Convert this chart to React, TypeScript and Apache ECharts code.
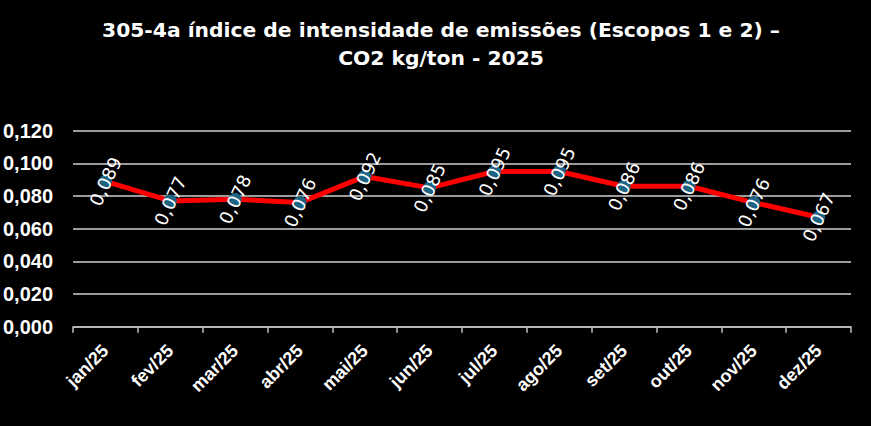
import React, { useEffect, useRef } from "react";
import * as echarts from "echarts";

const titleLines = ["305-4a índice de intensidade de emissões (Escopos 1 e 2) –", "CO2 kg/ton - 2025"];
const months = ["jan/25", "fev/25", "mar/25", "abr/25", "mai/25", "jun/25", "jul/25", "ago/25", "set/25", "out/25", "nov/25", "dez/25"];
const intensity = [0.089, 0.077, 0.078, 0.076, 0.092, 0.085, 0.095, 0.095, 0.086, 0.086, 0.076, 0.067];
const yMin = 0;
const yMax = 0.12;
const yStep = 0.02;

const fmt = (v: number) => v.toFixed(3).replace(".", ",");

export default function App() {
  const ref = useRef<HTMLDivElement>(null);
  useEffect(() => {
    if (!ref.current) return;
    const chart = echarts.init(ref.current, undefined, { renderer: "svg" });
    const font = "'Liberation Sans', Arial, sans-serif";
    chart.setOption({
      animation: false,
      backgroundColor: "#000000",
      title: {
        text: titleLines.join("\n"),
        left: 436,
        top: 11,
        textAlign: "center",
        textStyle: {
          color: "#ffffff",
          fontFamily: "'DejaVu Sans', sans-serif",
          fontWeight: "bold",
          fontSize: 20.3,
          lineHeight: 28,
        },
      },
      grid: { left: 72, right: 20, top: 130.7, bottom: 99.3, containLabel: false },
      xAxis: {
        type: "category",
        data: months,
        boundaryGap: true,
        axisLine: { lineStyle: { color: "#bfbfbf", width: 1.5 } },
        axisTick: { show: true, length: 6, interval: 0, lineStyle: { color: "#bfbfbf", width: 1.5 } },
        axisLabel: {
          interval: 0,
          rotate: 45,
          margin: 21,
          color: "#ffffff",
          fontFamily: font,
          fontWeight: "bold",
          fontSize: 18,
        },
      },
      yAxis: {
        type: "value",
        min: yMin,
        max: yMax,
        interval: yStep,
        axisLine: { show: false },
        axisTick: { show: false },
        splitLine: { lineStyle: { color: "#d0d0d0", width: 1.5 } },
        axisLabel: {
          margin: 20,
          color: "#ffffff",
          fontFamily: font,
          fontWeight: "bold",
          fontSize: 20,
          formatter: (v: number) => fmt(v),
        },
      },
      series: [
        {
          type: "line",
          data: intensity,
          lineStyle: { color: "#ff0000", width: 5 },
          symbol: "circle",
          symbolSize: 13,
          itemStyle: { color: "#1d6384" },
          label: {
            show: true,
            position: "inside",
            rotate: 65,
            color: "#ffffff",
            fontFamily: "'DejaVu Sans', sans-serif",
            fontSize: 18,
            align: "center",
            verticalAlign: "middle",
            formatter: (p: any) => fmt(p.value),
          },
        },
      ],
    });
    return () => chart.dispose();
  }, []);
  return <div ref={ref} style={{ width: 871, height: 426, position: "absolute", left: 0, top: 0 }} />;
}
